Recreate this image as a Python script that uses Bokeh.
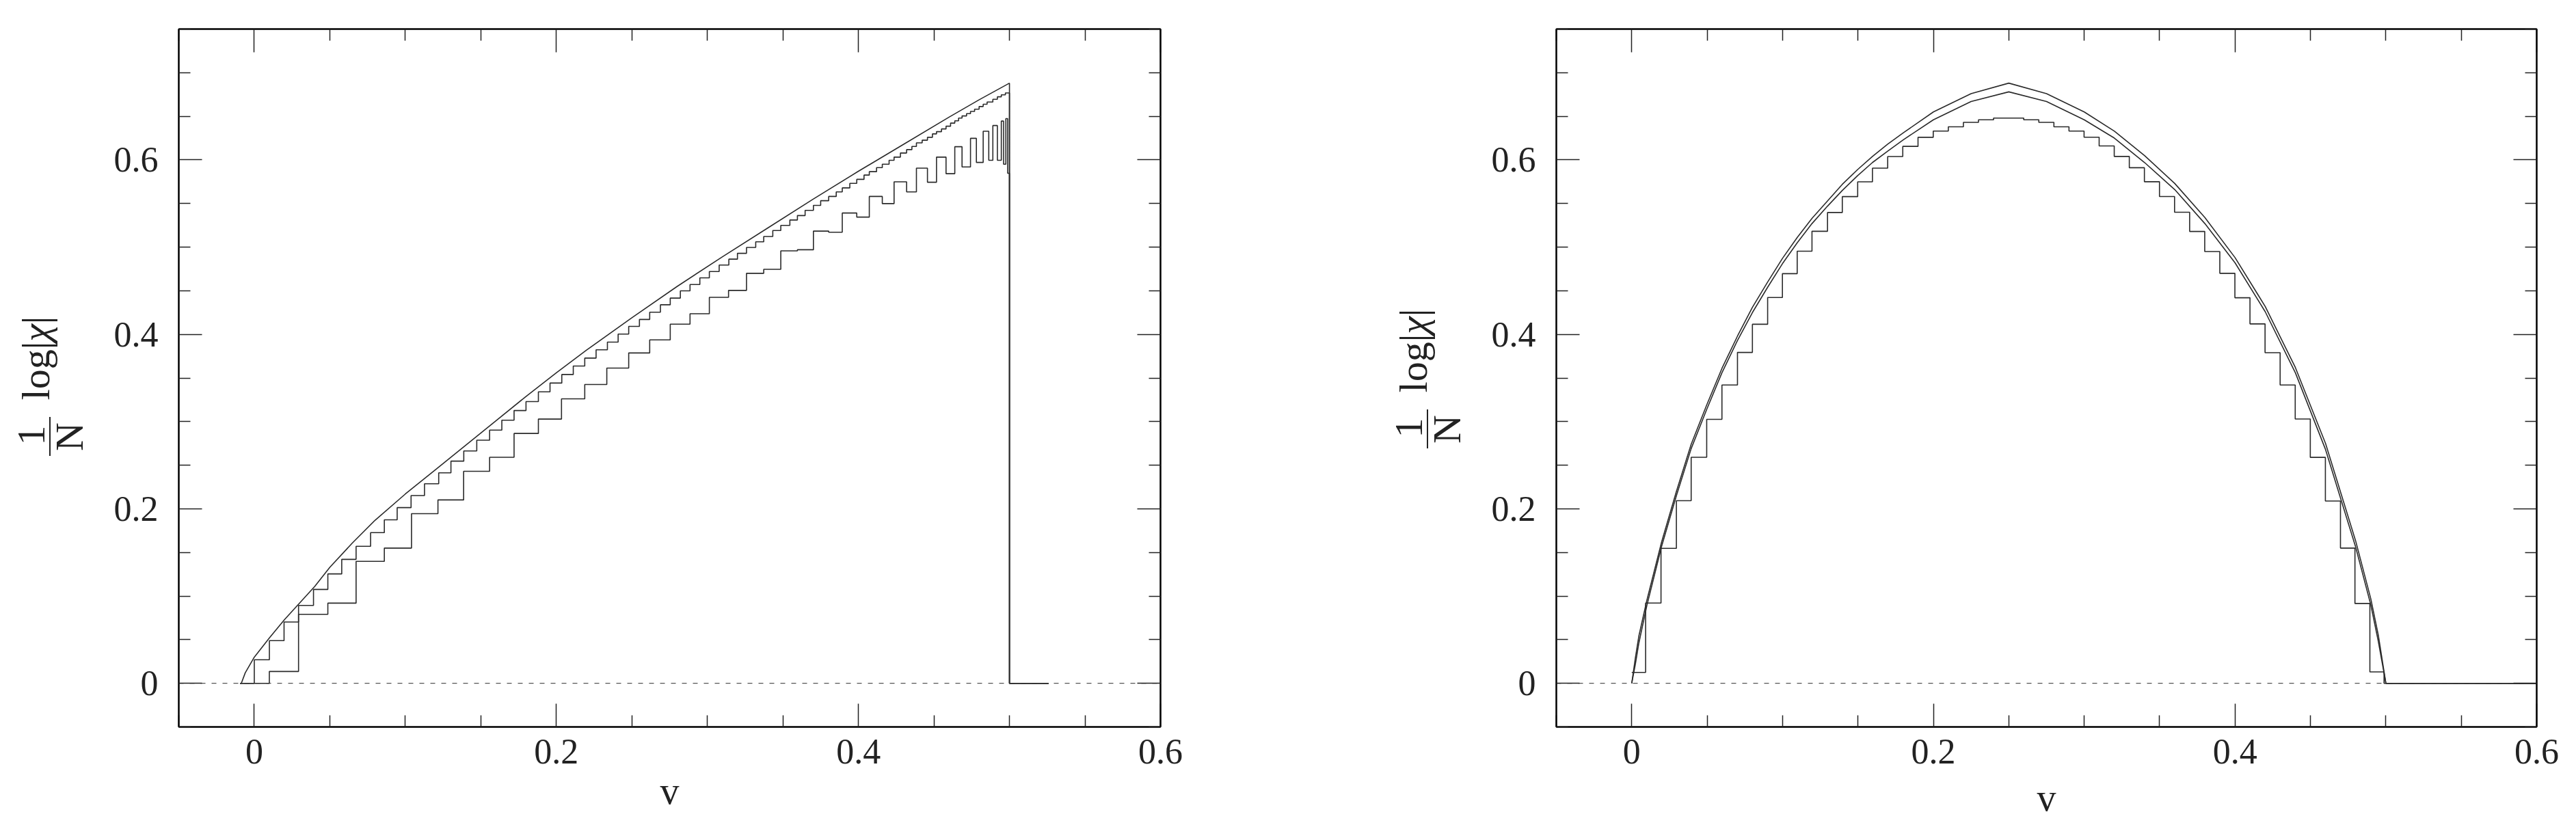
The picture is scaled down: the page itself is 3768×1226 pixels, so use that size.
import numpy as np
from bokeh.plotting import figure
from bokeh.layouts import row
from bokeh.models import FixedTicker, LinearAxis, Range1d, CustomJSTickFormatter, Div
from bokeh.embed import file_html
from bokeh.resources import INLINE

# ---------------- data ----------------
X_MAJOR = [0.0, 0.2, 0.4, 0.6]
X_MINOR = [-0.05, 0.05, 0.1, 0.15, 0.25, 0.3, 0.35, 0.45, 0.5, 0.55]
Y_MAJOR = [0.0, 0.2, 0.4, 0.6]
Y_MINOR = [-0.05, 0.05, 0.1, 0.15, 0.25, 0.3, 0.35, 0.45, 0.5, 0.55, 0.65, 0.7, 0.75]
TICK_LABELS = {0: "0", 0.2: "0.2", 0.4: "0.4", 0.6: "0.6"}
X_TITLE = "v"
Y_TITLE_NUM = "1"
Y_TITLE_DEN = "N"
Y_TITLE_REST = "log|<i>χ</i>|"

# left panel: near-smooth curve
LT_V = [-0.0094, -0.0086, -0.006, 0.0, 0.01, 0.02, 0.03, 0.04, 0.05, 0.065, 0.08, 0.1,
        0.12, 0.14, 0.16, 0.18, 0.2, 0.22, 0.25, 0.28, 0.31, 0.34, 0.37, 0.40, 0.43,
        0.46, 0.48, 0.5, 0.5, 0.526]
LT_Y = [0.0, 0.0, 0.012, 0.030, 0.052, 0.073, 0.092, 0.111, 0.133, 0.161, 0.187, 0.217,
        0.245, 0.273, 0.301, 0.329, 0.356, 0.382, 0.419, 0.455, 0.489, 0.522, 0.555, 0.587,
        0.618, 0.649, 0.669, 0.688, 0.0, 0.0]

# left panel: medium staircase (step position, level after the step)
LM_X = [0.0, 0.0100, 0.0197, 0.0293, 0.0392, 0.0487, 0.0579, 0.0674, 0.0770, 0.0861,
        0.0946, 0.1038, 0.1127, 0.1221, 0.1302, 0.1387, 0.1473, 0.1558, 0.1639, 0.1720,
        0.1799, 0.1881, 0.1958, 0.2036, 0.2112, 0.2188, 0.2263, 0.2338, 0.2409, 0.2479,
        0.2550, 0.2618, 0.2689, 0.2754, 0.2821, 0.2885, 0.2950, 0.3013, 0.3078, 0.3142,
        0.3199, 0.3259, 0.3320, 0.3373, 0.3433, 0.3486, 0.3546, 0.3596, 0.3647, 0.3702,
        0.3750, 0.3803, 0.3853, 0.3893, 0.3943, 0.3989, 0.4037, 0.4072, 0.4120, 0.4158,
        0.4203, 0.4236, 0.4278, 0.4319, 0.4354, 0.4384, 0.4422, 0.4457, 0.4490, 0.4517,
        0.4550, 0.4580, 0.4610, 0.4638, 0.4663, 0.4686, 0.4716, 0.4742, 0.4769, 0.4799,
        0.4826, 0.4852, 0.4890, 0.4920, 0.4946, 0.4973]
LM_Y = [0.0270, 0.0489, 0.0703, 0.0893, 0.1076, 0.1254, 0.1421, 0.1570, 0.1727, 0.1874,
        0.2014, 0.2152, 0.2288, 0.2413, 0.2547, 0.2663, 0.2787, 0.2903, 0.3016, 0.3127,
        0.3230, 0.3341, 0.3442, 0.3540, 0.3637, 0.3728, 0.3823, 0.3911, 0.4004, 0.4091,
        0.4171, 0.4254, 0.4339, 0.4416, 0.4499, 0.4571, 0.4648, 0.4720, 0.4795, 0.4862,
        0.4929, 0.4996, 0.5061, 0.5122, 0.5190, 0.5249, 0.5311, 0.5362, 0.5422, 0.5478,
        0.5532, 0.5581, 0.5633, 0.5679, 0.5731, 0.5777, 0.5826, 0.5865, 0.5911, 0.5950,
        0.5996, 0.6032, 0.6079, 0.6118, 0.6154, 0.6195, 0.6226, 0.6259, 0.6298, 0.6324,
        0.6355, 0.6386, 0.6422, 0.6448, 0.6479, 0.6504, 0.6530, 0.6556, 0.6581, 0.6612,
        0.6638, 0.6664, 0.6695, 0.6723, 0.6746, 0.6767]

# left panel: coarse staircase
LB_X = [0.00996, 0.0293, 0.0487, 0.0674, 0.0861, 0.1041, 0.1216, 0.1386, 0.1558, 0.1720,
        0.1881, 0.2034, 0.2188, 0.2334, 0.2479, 0.2618, 0.2754, 0.2885, 0.3013, 0.3140,
        0.3259, 0.3373, 0.3486, 0.3596, 0.3702, 0.3803, 0.3893, 0.3989, 0.4072, 0.4158,
        0.4236, 0.4319, 0.4384, 0.4457, 0.4517, 0.4580, 0.4638, 0.4686, 0.4742, 0.4781,
        0.4826, 0.4863, 0.4890, 0.4920, 0.4946, 0.4961, 0.4976, 0.4988]
LB_Y = [0.0136, 0.0791, 0.0919, 0.1398, 0.1550, 0.1945, 0.2102, 0.2431, 0.2591, 0.2864,
        0.3029, 0.3261, 0.3426, 0.3614, 0.3787, 0.3937, 0.4117, 0.4236, 0.4424, 0.4504,
        0.4700, 0.4746, 0.4957, 0.4970, 0.5184, 0.5171, 0.5391, 0.5344, 0.5581, 0.5499,
        0.5749, 0.5633, 0.5906, 0.5744, 0.6032, 0.5842, 0.6151, 0.5919, 0.6247, 0.5971,
        0.6329, 0.5996, 0.6394, 0.5996, 0.6445, 0.5950, 0.6473, 0.5847]
L_START = -0.0094
L_END = 0.526

# right panel: smooth curve and fine staircase (drawn as lines)
RT_V = [0.0, 0.0024, 0.0047, 0.0100, 0.0198, 0.0296, 0.0394, 0.0497, 0.0598, 0.0701,
        0.0800, 0.0901, 0.0999, 0.1097, 0.1195, 0.1298, 0.1396, 0.1498, 0.1596, 0.1697,
        0.1800, 0.2000, 0.2250, 0.2500, 0.2750, 0.3000, 0.3200, 0.3400, 0.3600, 0.3800,
        0.4000, 0.4200, 0.4400, 0.4600, 0.4800, 0.4900, 0.4950, 0.5000, 0.6]
RT_Y = [0.0, 0.029, 0.054, 0.095, 0.162, 0.220, 0.274, 0.319, 0.361, 0.398,
        0.431, 0.460, 0.487, 0.511, 0.533, 0.553, 0.572, 0.589, 0.604, 0.618,
        0.631, 0.655, 0.676, 0.688, 0.676, 0.655, 0.633, 0.605, 0.573, 0.534,
        0.488, 0.432, 0.362, 0.275, 0.163, 0.097, 0.055, 0.0, 0.0]
RM_Y = [0.0, 0.022, 0.046, 0.089, 0.157, 0.215, 0.269, 0.314, 0.356, 0.393,
        0.425, 0.454, 0.481, 0.505, 0.527, 0.547, 0.565, 0.582, 0.597, 0.610,
        0.623, 0.646, 0.667, 0.678, 0.667, 0.646, 0.625, 0.597, 0.566, 0.527,
        0.482, 0.426, 0.356, 0.268, 0.156, 0.090, 0.048, 0.0, 0.0]

# right panel: coarse staircase
RB_X = [0.0, 0.0092, 0.0194, 0.0296, 0.0394, 0.0497, 0.0598, 0.0701, 0.0800, 0.0901,
        0.0999, 0.1097, 0.1195, 0.1298, 0.1396, 0.1498, 0.1596, 0.1697, 0.1797, 0.1898,
        0.1999, 0.2099, 0.2199, 0.2299, 0.2399, 0.2499, 0.2599, 0.2699, 0.2799, 0.2899,
        0.2999, 0.3099, 0.3199, 0.3299, 0.3399, 0.3499, 0.3599, 0.3699, 0.3799, 0.3899,
        0.3999, 0.4099, 0.4199, 0.4299, 0.4399, 0.4499, 0.4599, 0.4699, 0.4795, 0.4894]
RB_Y = [0.0125, 0.092, 0.1547, 0.2094, 0.2591, 0.3026, 0.342, 0.3793, 0.4116, 0.4423,
        0.4696, 0.4953, 0.5182, 0.5397, 0.5579, 0.5749, 0.5906, 0.6039, 0.6155, 0.6259,
        0.633, 0.638, 0.643, 0.646, 0.648, 0.648, 0.646, 0.643, 0.638, 0.633,
        0.626, 0.616, 0.604, 0.591, 0.575, 0.558, 0.540, 0.518, 0.495, 0.470,
        0.442, 0.412, 0.379, 0.342, 0.303, 0.259, 0.209, 0.155, 0.0915, 0.0131]
R_END = [0.4988, 0.6]

FONT = "Liberation Serif"
INK = "#222222"
CURVE = "#2a2a2a"
H = 1200


def make_panel(width, bl, br, bt, bb, xlabel_standoff):
    p = figure(width=width, height=H, title=None,
               x_range=Range1d(-0.05, 0.6), y_range=Range1d(-0.05, 0.75),
               output_backend="svg", toolbar_location=None,
               x_axis_location=None, y_axis_location=None,
               min_border_left=bl, min_border_right=br,
               min_border_top=bt, min_border_bottom=bb, margin=0)
    p.grid.visible = False
    p.outline_line_color = "black"
    p.outline_line_width = 2
    p.background_fill_color = "white"
    p.border_fill_color = "white"
    for side in ("below", "above", "left", "right"):
        if side in ("below", "above"):
            tk = FixedTicker(ticks=X_MAJOR, minor_ticks=X_MINOR)
        else:
            tk = FixedTicker(ticks=Y_MAJOR, minor_ticks=Y_MINOR)
        ax = LinearAxis(ticker=tk)
        ax.axis_line_color = "black"
        ax.axis_line_width = 2
        ax.major_tick_in = 34
        ax.major_tick_out = 0
        ax.minor_tick_in = 17
        ax.minor_tick_out = 0
        ax.major_tick_line_color = INK
        ax.major_tick_line_width = 1.5
        ax.minor_tick_line_color = INK
        ax.minor_tick_line_width = 1.5
        ax.major_label_text_font = FONT
        ax.major_label_text_font_size = "52px"
        ax.major_label_text_color = INK
        if side in ("below", "left"):
            ax.major_label_overrides = TICK_LABELS
            ax.major_label_standoff = 18 if side == "below" else 30
        else:
            ax.formatter = CustomJSTickFormatter(code="return ''")
            ax.major_label_standoff = 0
        if side == "below":
            ax.axis_label = X_TITLE
            ax.axis_label_text_font = FONT
            ax.axis_label_text_font_size = "56px"
            ax.axis_label_text_font_style = "normal"
            ax.axis_label_text_color = INK
            ax.axis_label_standoff = xlabel_standoff
        p.add_layout(ax, side)
    # dotted zero line
    p.line([-0.05, 0.6], [0.0, 0.0], line_color="#555555", line_width=1.3,
           line_dash="7 9")
    return p


def make_ylabel(width, ox, oy, dx, dy):
    """HTML block holding the stacked y-axis title, rotated to read upwards.
    (ox, oy): page position of the block; (dx, dy): shift of the title."""
    font = ("font-family:'Liberation Serif',serif;font-size:58px;line-height:1;"
            "color:%s;white-space:nowrap;" % INK)

    def rotated(cx, cy, txt):
        return ('<div style="position:absolute;left:%dpx;top:%dpx;'
                'transform:translate(-50%%,-50%%) rotate(-90deg);%s">%s</div>'
                % (cx + dx - ox, cy + dy - oy, font, txt))

    html = ('<div style="position:relative;width:%dpx;height:%dpx;">' % (width, H)
            + rotated(46, 637, Y_TITLE_NUM)
            + rotated(102, 639, Y_TITLE_DEN)
            + rotated(53, 524, Y_TITLE_REST)
            + ('<div style="position:absolute;left:%dpx;top:%dpx;width:2px;'
               'height:57px;background:%s;"></div>' % (72 + dx - ox, 610 + dy - oy, INK))
            + '</div>')
    return Div(text=html, width=width, height=H, margin=0)


# ---------------- left panel (page x 0..1800) ----------------
lab1 = make_ylabel(148, 0, 0, 0, 0)
p1 = make_panel(1652, 113, 103, 42, 124, 6)
p1.line(LT_V, LT_Y, line_color=CURVE, line_width=1.6)
p1.step([L_START] + LM_X + [0.5, L_END], [0.0] + LM_Y + [0.0, 0.0], mode="after",
        line_color=CURVE, line_width=1.6)
p1.step([L_START] + LB_X + [0.5, L_END], [0.0] + LB_Y + [0.0, 0.0], mode="after",
        line_color=CURVE, line_width=1.6)

# ---------------- right panel (page x 1800..3756) ----------------
lab2 = make_ylabel(350, 1800, 0, 2015, -11)
p2 = make_panel(1606, 126, 46, 31, 135, 16)
p2.line(RT_V, RT_Y, line_color=CURVE, line_width=1.6)
p2.line(RT_V, RM_Y, line_color=CURVE, line_width=1.6)
p2.step(RB_X + R_END, RB_Y + [0.0, 0.0], mode="after", line_color=CURVE,
        line_width=1.6)

layout = row(lab1, p1, lab2, p2, spacing=0, margin=0)
open("out.html", "w").write(file_html(layout, INLINE))
